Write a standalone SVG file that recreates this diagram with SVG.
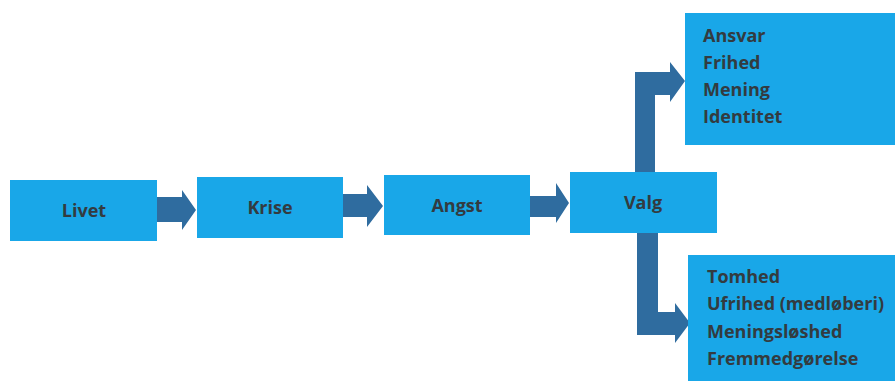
<svg xmlns="http://www.w3.org/2000/svg" width="895" height="381" viewBox="0 0 895 381">
<style>
.box{fill:#19a7e8}
.arr{fill:#2f6c9f}
.t{font-family:"Open Sans","DejaVu Sans",sans-serif;font-weight:700;font-size:18px;fill:#333b40}
.c{text-anchor:middle}
</style>
<rect width="895" height="381" fill="#ffffff"/>
<g id="connectors">
<path class="arr" d="M157,197 H182 V190 L196,210 L182,230 V222 H157 Z"/>
<path class="arr" d="M343,194 H367 V185 L383,206 L367,227 V217 H343 Z"/>
<path class="arr" d="M530,196 H556 V183 L569,203 L556,223 V217 H530 Z"/>
<path class="arr" d="M635,173 V72 H670 V62 L685,81 L670,102 V95 H655 V173 Z"/>
<path class="arr" d="M637,232 V335 H675 V343 L690,323 L675,303 V312 H658 V232 Z"/>
</g>
<g id="livet">
<rect class="box" x="10" y="180" width="147" height="61"/>
<text class="t c" x="84" y="217">Livet</text>
</g>
<g id="krise">
<rect class="box" x="197" y="177" width="146" height="61"/>
<text class="t c" x="270" y="214">Krise</text>
</g>
<g id="angst">
<rect class="box" x="384" y="175" width="146" height="60"/>
<text class="t c" x="457" y="212">Angst</text>
</g>
<g id="valg">
<rect class="box" x="570" y="172" width="147" height="61"/>
<text class="t c" x="643" y="209">Valg</text>
</g>
<g id="positive">
<rect class="box" x="685" y="13" width="210" height="132"/>
<text class="t" x="703" y="42">Ansvar</text>
<text class="t" x="703" y="69">Frihed</text>
<text class="t" x="703" y="96">Mening</text>
<text class="t" x="703" y="123">Identitet</text>
</g>
<g id="negative">
<rect class="box" x="688" y="255" width="207" height="126"/>
<text class="t" x="707" y="283">Tomhed</text>
<text class="t" x="707" y="310">Ufrihed (medløberi)</text>
<text class="t" x="707" y="338">Meningsløshed</text>
<text class="t" x="707" y="365">Fremmedgørelse</text>
</g>
</svg>
